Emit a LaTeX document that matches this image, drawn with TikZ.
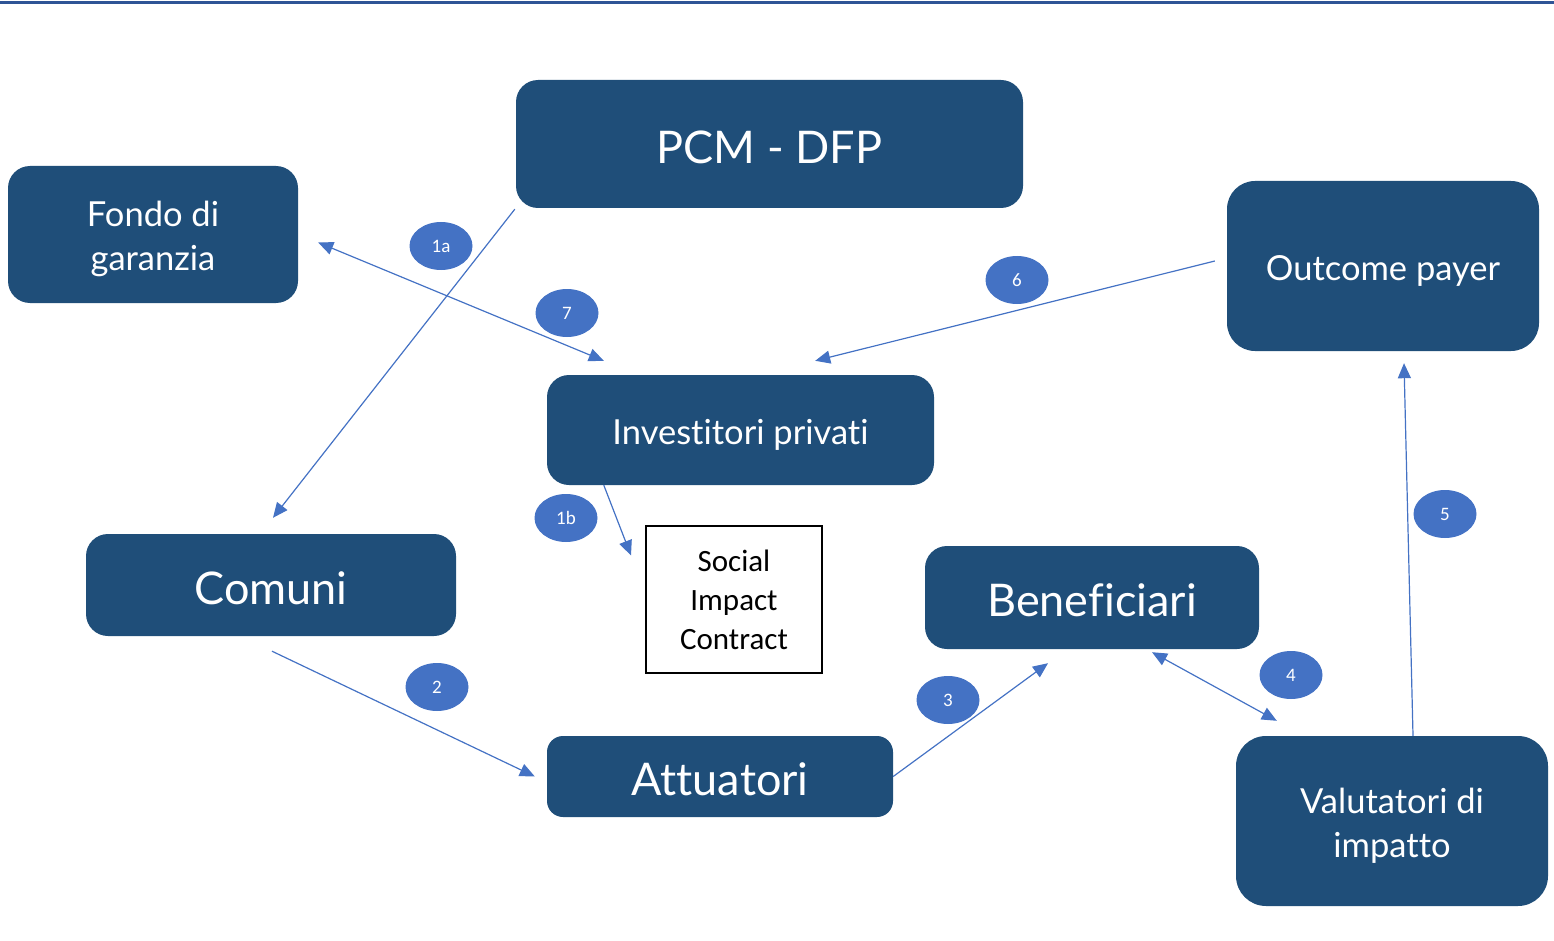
\documentclass[tikz,border=0pt]{standalone}
\usepackage{fontspec}
\setmainfont{Lato}[Ligatures=NoCommon]
\newfontfamily\calib{Carlito}
\usetikzlibrary{calc,arrows.meta,shapes.geometric}
\definecolor{boxblue}{RGB}{31,78,121}
\definecolor{arrblue}{RGB}{68,114,196}
\definecolor{topline}{RGB}{47,84,150}
\begin{document}
\begin{tikzpicture}[x=1pt,y=-1pt,
  box/.style={fill=boxblue, rounded corners=22pt, text=white, inner sep=0pt, align=center},
  txtM/.style={font=\fontsize{34.5}{44}\selectfont, text height=34pt},
  txtMM/.style={font=\fontsize{34.5}{44}\selectfont, text height=78pt},
  txtL/.style={font=\fontsize{45}{50}\selectfont, text height=39pt},
  num/.style={ellipse, fill=arrblue, text=white, minimum width=63pt, minimum height=48pt, inner sep=0pt, font=\calib\fontsize{19}{20}\selectfont},
  conn/.style={draw=arrblue, line width=1.2pt, -{Triangle[length=15pt,width=13pt]}},
  conn2/.style={draw=arrblue, line width=1.2pt, {Triangle[length=15pt,width=13pt]}-{Triangle[length=15pt,width=13pt]}},
]
\useasboundingbox (0,0) rectangle (1554,941);
\draw[topline, line width=3pt] (0,3) -- (1554,3);

% boxes
\node[box, txtL, minimum width=507pt, minimum height=128pt] (pcm) at (769.5,144) {PCM - DFP};
\node[box, txtMM, minimum width=290pt, minimum height=137pt] (fondo) at (153,234.5) {Fondo di\\garanzia};
\node[box, txtM, rounded corners=28pt, minimum width=312pt, minimum height=170pt] (outcome) at (1383,266) {Outcome payer};
\node[box, txtM, minimum width=387pt, minimum height=110pt] (invest) at (740.5,430) {Investitori privati};
\node[box, txtL, minimum width=370pt, minimum height=102pt] (comuni) at (271,585) {Comuni};
\node[box, txtL, minimum width=334pt, minimum height=103pt] (benef) at (1092,597.5) {Beneficiari};
\node[box, txtL, minimum width=346pt, minimum height=81pt, rounded corners=16pt] (attua) at (720,776.5) {Attuatori};
\node[box, txtMM, rounded corners=30pt, minimum width=312pt, minimum height=170pt] (valut) at (1392,821) {Valutatori di\\impatto};
\node[draw=black, line width=2pt, fill=white, minimum width=176pt, minimum height=147pt, inner sep=0pt, align=center, font=\calib\fontsize{31}{39}\selectfont] (sic) at (734,599.5) {Social\\Impact\\Contract};

% number labels
\node[num] (n1a) at (441,246) {1a};
\node[num] (n7) at (567,313) {7};
\node[num] (n6) at (1017,280) {6};
\node[num] (n1b) at (566,518) {1b};
\node[num] (n2) at (437,687) {2};
\node[num] (n3) at (948,700) {3};
\node[num] (n4) at (1291,675) {4};
\node[num] (n5) at (1445,514) {5};

% connector end points
\coordinate (a1s) at ($(pcm.south west)+(-1,1)$);
\coordinate (a1e) at ($(comuni.north)+(2,-16)$);
\coordinate (a7s) at ($(fondo.east)+(20,8)$);
\coordinate (a7e) at ($(invest.north west)+(57,-14)$);
\coordinate (a6s) at ($(outcome.west)+(-12,-5)$);
\coordinate (a6e) at ($(invest.north east)+(-119,-14)$);
\coordinate (b1s) at ($(invest.south west)+(57,0)$);
\coordinate (b1e) at ($(sic.west)+(-14,-44)$);
\coordinate (a2s) at ($(comuni.south)+(1,15)$);
\coordinate (a2e) at ($(attua.west)+(-12,0)$);
\coordinate (a3s) at (attua.east);
\coordinate (a3e) at ($(benef.south)+(-44,14)$);
\coordinate (a4s) at ($(benef.south)+(60,3)$);
\coordinate (a4e) at ($(valut.north west)+(41,-15)$);
\coordinate (a5s) at ($(valut.north)+(21,0)$);
\coordinate (a5e) at ($(outcome.south)+(21,12)$);

\draw[conn] (a1s) -- (a1e);
\draw[conn2] (a7s) -- (a7e);
\draw[conn] (a6s) -- (a6e);
\draw[conn] (b1s) -- (b1e);
\draw[conn] (a2s) -- (a2e);
\draw[conn] (a3s) -- (a3e);
\draw[conn2] (a4s) -- (a4e);
\draw[conn] (a5s) -- (a5e);
\end{tikzpicture}
\end{document}
